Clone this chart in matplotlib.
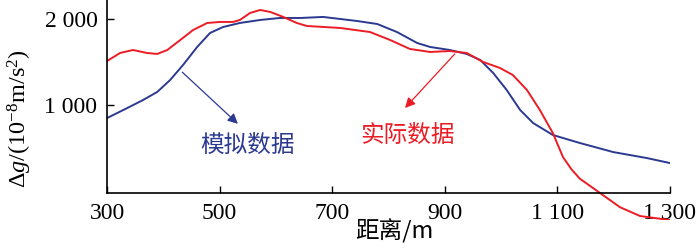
import matplotlib
matplotlib.use('Agg')
import matplotlib.pyplot as plt

plt.rcParams['font.family'] = ['Liberation Serif', 'Noto Sans CJK SC', 'DejaVu Sans']
plt.rcParams['mathtext.fontset'] = 'custom'
plt.rcParams['mathtext.rm'] = 'Liberation Serif'
plt.rcParams['mathtext.it'] = 'Liberation Serif:italic'

# simulated data (blue)
sim_x = [300, 336, 364, 389, 412, 435, 460, 483, 506, 536, 572, 607, 643, 684,
         744, 780, 815, 851, 874, 909, 939, 963, 986, 1010, 1034, 1057, 1092,
         1140, 1199, 1259, 1300]
sim_y = [845, 962, 1055, 1148, 1287, 1462, 1671, 1834, 1903, 1950, 1985, 2008, 2008, 2020,
         1973, 1938, 1845, 1717, 1671, 1636, 1590, 1520, 1369, 1171, 938, 787, 648,
         555, 450, 380, 322]

# measured data (red)
real_x = [300, 323, 346, 371, 389, 407, 430, 453, 478, 501, 524, 536, 554, 572,
          590, 613, 637, 655, 714, 767, 803, 838, 874, 909, 939, 968, 998, 1021,
          1046, 1069, 1092, 1110, 1125, 1140, 1176, 1211, 1247, 1300]
real_y = [1508, 1601, 1636, 1601, 1590, 1636, 1752, 1869, 1950, 1962, 1962, 1985, 2066, 2101,
          2078, 2020, 1950, 1915, 1892, 1845, 1752, 1648, 1613, 1624, 1601, 1497, 1427, 1345,
          1171, 938, 671, 392, 250, 140, -27, -190, -294, -341]

xticks = [300, 500, 700, 900, 1100, 1300]
xlabels = ['300', '500', '700', '900', '1 100', '1 300']
yticks = [1000, 2000]
ylabels = ['1 000', '2 000']

blue = '#2b3990'
red = '#ec1c24'

fig = plt.figure(figsize=(7, 2.5), dpi=100)
ax = fig.add_axes([0.153, 0.12, 0.804, 0.88])

ax.plot(sim_x, sim_y, color=blue, lw=1.4, solid_joinstyle='round')
ax.plot(real_x, real_y, color=red, lw=1.4, solid_joinstyle='round')

ax.set_xlim(300, 1300)
ax.set_ylim(-340, 2217)

for s in ['top', 'right']:
    ax.spines[s].set_visible(False)
ax.spines['bottom'].set_position(('data', -27))
ax.spines['left'].set_bounds(-27, 2217)
ax.spines['left'].set_linewidth(1.2)
ax.spines['bottom'].set_linewidth(1.2)

ax.set_xticks(xticks)
ax.set_xticklabels(xlabels)
ax.set_yticks(yticks)
ax.set_yticklabels(ylabels)
ax.tick_params(direction='in', length=5, width=1.0, labelsize=17)
ax.tick_params(axis='x', pad=7)
ax.tick_params(axis='y', pad=7)

ax.set_ylabel(r'$\Delta g/(10^{-8}\mathrm{m/s^2})$', fontsize=17.5)
ax.yaxis.set_label_coords(-0.13, 0.46)
fig.text(0.563, 0.025, '距离/m', fontsize=17, ha='center', va='bottom',
         family=['Noto Sans CJK SC', 'Liberation Serif'])

ax.annotate('', xy=(536, 756), xytext=(430, 1400),
            arrowprops=dict(arrowstyle='-|>', color=blue, lw=0.9, mutation_scale=15))
ax.text(549, 530, '模拟数据', color=blue, fontsize=17, ha='center', va='center',
        family=['Noto Sans CJK SC'])

ax.annotate('', xy=(826, 938), xytext=(921, 1613),
            arrowprops=dict(arrowstyle='-|>', color=red, lw=0.9, mutation_scale=15))
ax.text(833, 647, '实际数据', color=red, fontsize=17, ha='center', va='center',
        family=['Noto Sans CJK SC'])

fig.savefig('out.png', dpi=100)
